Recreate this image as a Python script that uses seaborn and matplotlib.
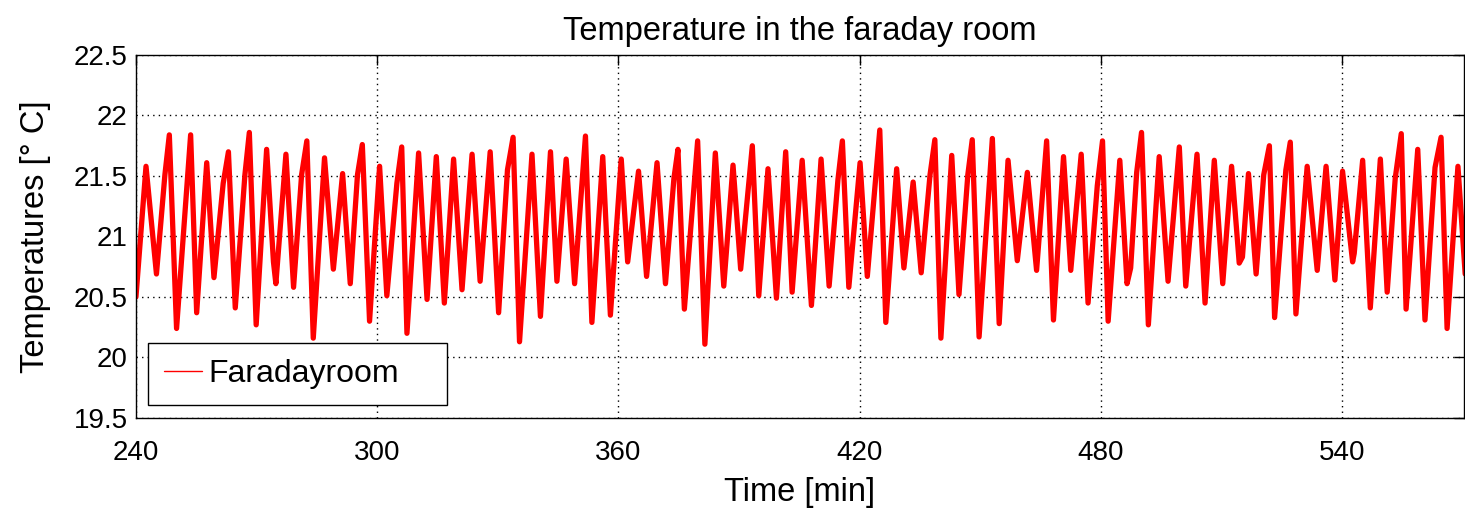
# %%
# import libraries
import matplotlib
matplotlib.use('Agg')
import matplotlib.pyplot as plt
from matplotlib.lines import Line2D
import seaborn as sns
import pandas as pd

# %% data (peaks, troughs and shoulders of the signal)
time_min = [240.0, 242.5, 245.1, 247.2, 248.3, 250.1, 253.6, 255.1, 257.6, 259.4,
            261.7, 263.0, 264.7, 267.1, 268.2, 269.9, 272.5, 274.2, 274.8, 277.3,
            279.2, 281.2, 282.5, 284.1, 286.9, 289.1, 291.4, 293.3, 295.1, 296.3,
            298.1, 300.6, 302.4, 304.9, 306.1, 307.4, 310.3, 312.4, 314.7, 316.7,
            319.0, 321.1, 323.6, 325.6, 328.1, 330.2, 332.4, 333.8, 335.4, 338.5,
            340.6, 343.1, 344.7, 347.0, 349.1, 351.8, 353.4, 356.1, 358.0, 360.7,
            362.3, 365.0, 367.0, 369.6, 371.7, 373.8, 374.8, 376.4, 379.7, 381.5,
            384.1, 386.2, 388.5, 390.4, 393.3, 394.9, 397.2, 399.3, 401.6, 403.2,
            405.7, 408.0, 410.4, 412.4, 414.6, 415.7, 417.3, 420.1, 421.9, 425.0,
            426.5, 429.2, 431.0, 433.3, 435.3, 437.5, 438.7, 440.2, 442.9, 444.7,
            446.9, 448.0, 449.7, 453.0, 454.7, 456.9, 459.2, 461.7, 464.0, 466.5,
            468.2, 470.7, 472.5, 475.1, 476.8, 479.1, 480.4, 481.8, 484.7, 486.5,
            487.4, 488.9, 490.1, 491.8, 494.5, 496.7, 499.5, 501.1, 503.9, 505.9,
            508.2, 510.3, 512.5, 514.4, 515.2, 516.7, 518.6, 520.5, 521.9, 523.2,
            526.0, 527.1, 528.5, 531.3, 533.8, 536.0, 538.2, 540.1, 542.6, 543.0,
            545.1, 547.0, 549.5, 551.2, 553.2, 554.7, 555.9, 558.8, 560.6, 563.1,
            564.6, 566.1, 568.8, 570.6]
temp_c = [20.50, 21.58, 20.69, 21.51, 21.84, 20.24, 21.84, 20.37, 21.61, 20.66,
          21.44, 21.70, 20.41, 21.51, 21.86, 20.27, 21.72, 20.79, 20.61, 21.68,
          20.58, 21.51, 21.79, 20.16, 21.65, 20.73, 21.52, 20.61, 21.51, 21.76,
          20.30, 21.58, 20.51, 21.44, 21.74, 20.20, 21.69, 20.48, 21.66, 20.45,
          21.64, 20.56, 21.68, 20.63, 21.70, 20.37, 21.55, 21.82, 20.13, 21.68,
          20.34, 21.70, 20.63, 21.64, 20.61, 21.83, 20.29, 21.66, 20.35, 21.64,
          20.79, 21.54, 20.67, 21.61, 20.61, 21.48, 21.72, 20.40, 21.79, 20.11,
          21.69, 20.59, 21.59, 20.73, 21.75, 20.51, 21.56, 20.49, 21.70, 20.54,
          21.63, 20.43, 21.64, 20.59, 21.47, 21.79, 20.58, 21.61, 20.67, 21.88,
          20.29, 21.56, 20.74, 21.45, 20.70, 21.51, 21.80, 20.16, 21.67, 20.52,
          21.51, 21.80, 20.17, 21.81, 20.28, 21.63, 20.80, 21.53, 20.72, 21.79,
          20.31, 21.66, 20.72, 21.68, 20.45, 21.42, 21.79, 20.30, 21.63, 20.61,
          20.74, 21.53, 21.86, 20.27, 21.66, 20.63, 21.74, 20.59, 21.68, 20.45,
          21.63, 20.61, 21.58, 20.78, 20.83, 21.52, 20.69, 21.51, 21.75, 20.33,
          21.55, 21.78, 20.36, 21.58, 20.72, 21.58, 20.64, 21.54, 20.79, 20.86,
          21.63, 20.41, 21.64, 20.54, 21.48, 21.85, 20.40, 21.72, 20.31, 21.57,
          21.82, 20.24, 21.58, 20.69]

x_ticks = [240, 300, 360, 420, 480, 540]
y_ticks = [19.5, 20, 20.5, 21, 21.5, 22, 22.5]
y_tick_labels = ['19.5', '20', '20.5', '21', '21.5', '22', '22.5']

df = pd.DataFrame({'Time': time_min, 'Temp': temp_c})

# %% plot
sns.set_style('white')
plt.rcParams['font.family'] = ['Liberation Sans', 'DejaVu Sans']
plt.rcParams['text.color'] = 'black'
plt.rcParams['axes.labelcolor'] = 'black'

fig = plt.figure(figsize=(14.65, 5.12), dpi=100)
ax = fig.add_axes([0.0928, 0.1836, 0.9065, 0.709])

sns.lineplot(data=df, x='Time', y='Temp', ax=ax, color='red', linewidth=3.8,
             estimator=None, sort=False, legend=False)

ax.set_xlim(240, 570.3)
ax.set_ylim(19.5, 22.5)
ax.set_xticks(x_ticks)
ax.set_yticks(y_ticks)
ax.set_yticklabels(y_tick_labels)
ax.tick_params(axis='both', direction='in', length=7, width=1, top=True, right=True,
               labelsize=20, colors='black')
ax.tick_params(axis='x', pad=16)
ax.tick_params(axis='y', pad=6)
ax.grid(True, color='black', linestyle=(0, (1, 3)), linewidth=1)
for s in ax.spines.values():
    s.set_color('black')
    s.set_linewidth(1)

ax.set_xlabel('Time [min]', fontsize=23.5, labelpad=8)
ax.set_ylabel('Temperatures [° C]', fontsize=23.5, labelpad=16)
ax.set_title('Temperature in the faraday room', fontsize=23.5, pad=11)

# thin line in the legend, thick line in the plot
handle = Line2D([], [], color='red', linewidth=1)
leg = ax.legend(handles=[handle], labels=['Faradayroom'], loc='lower left',
                bbox_to_anchor=(0.009, 0.036, 0.225, 0.2), mode='expand',
                fontsize=23, frameon=True, fancybox=False, handlelength=1.2,
                borderaxespad=0, borderpad=0.5, handletextpad=0.2)
leg.get_frame().set_edgecolor('black')
leg.get_frame().set_linewidth(1)
leg.get_frame().set_alpha(1)

plt.savefig('out.png', dpi=100)
